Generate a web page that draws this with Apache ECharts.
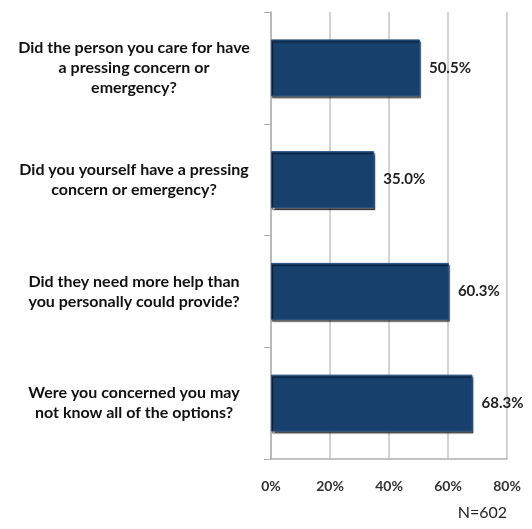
<!DOCTYPE html>
<html>
<head>
<meta charset="utf-8">
<script src="https://cdn.jsdelivr.net/npm/echarts@6/dist/echarts.min.js"></script>
<style>
  html, body { margin: 0; padding: 0; background: #fff; }
  #main { width: 532px; height: 529px; }
</style>
</head>
<body>
<div id="main"></div>
<script>
// questions, top to bottom
const questions = [
  'Did the person you care for have\na pressing concern or\nemergency?',
  'Did you yourself have a pressing\nconcern or emergency?',
  'Did they need more help than\nyou personally could provide?',
  'Were you concerned you may\nnot know all of the options?'
]
const percents = [50.5, 35.0, 60.3, 68.3]
const xTicks = [0, 20, 40, 60, 80]
const sampleNote = 'N=602'

const chart = echarts.init(document.getElementById('main'), null, { renderer: 'canvas' })

const option = {
  backgroundColor: '#fff',
  animation: false,
  title: {
    text: sampleNote,
    right: 20,
    bottom: 3,
    textStyle: { fontFamily: 'Lato', fontSize: 16, fontWeight: 'normal', color: '#222' }
  },
  grid: { left: 271, right: 25, top: 12, bottom: 70 },
  xAxis: {
    type: 'value',
    min: xTicks[0],
    max: xTicks[xTicks.length - 1],
    interval: 20,
    axisLine: { show: true, lineStyle: { color: '#b0b0b0', width: 1.5 } },
    axisTick: { show: false },
    splitLine: { show: true, lineStyle: { color: '#c4c4c4', width: 1.5 } },
    axisLabel: {
      margin: 20,
      formatter: v => v + '%',
      fontFamily: 'Lato',
      fontWeight: 'bold',
      fontSize: 14,
      color: '#333'
    }
  },
  yAxis: {
    type: 'category',
    inverse: true,
    data: questions,
    axisLine: { show: true, lineStyle: { color: '#b0b0b0', width: 1.5 } },
    axisTick: { show: true, length: 7, lineStyle: { color: '#b0b0b0' } },
    axisLabel: {
      margin: 137,
      align: 'center',
      fontFamily: 'Lato',
      fontWeight: 'bold',
      fontSize: 16,
      lineHeight: 20,
      color: '#111'
    }
  },
  series: [{
    type: 'bar',
    data: percents,
    barWidth: '51%',
    itemStyle: {
      color: '#17406d',
      borderColor: '#245182',
      borderWidth: 1,
      shadowColor: 'rgba(0,0,0,0.6)',
      shadowOffsetY: 2,
      shadowOffsetX: 1,
      shadowBlur: 1
    },
    label: {
      show: true,
      position: 'right',
      distance: 9,
      formatter: p => p.value.toFixed(1) + '%',
      fontFamily: 'Lato',
      fontWeight: 'bold',
      fontSize: 15,
      color: '#222'
    }
  }]
}

chart.setOption(option)
</script>
</body>
</html>
